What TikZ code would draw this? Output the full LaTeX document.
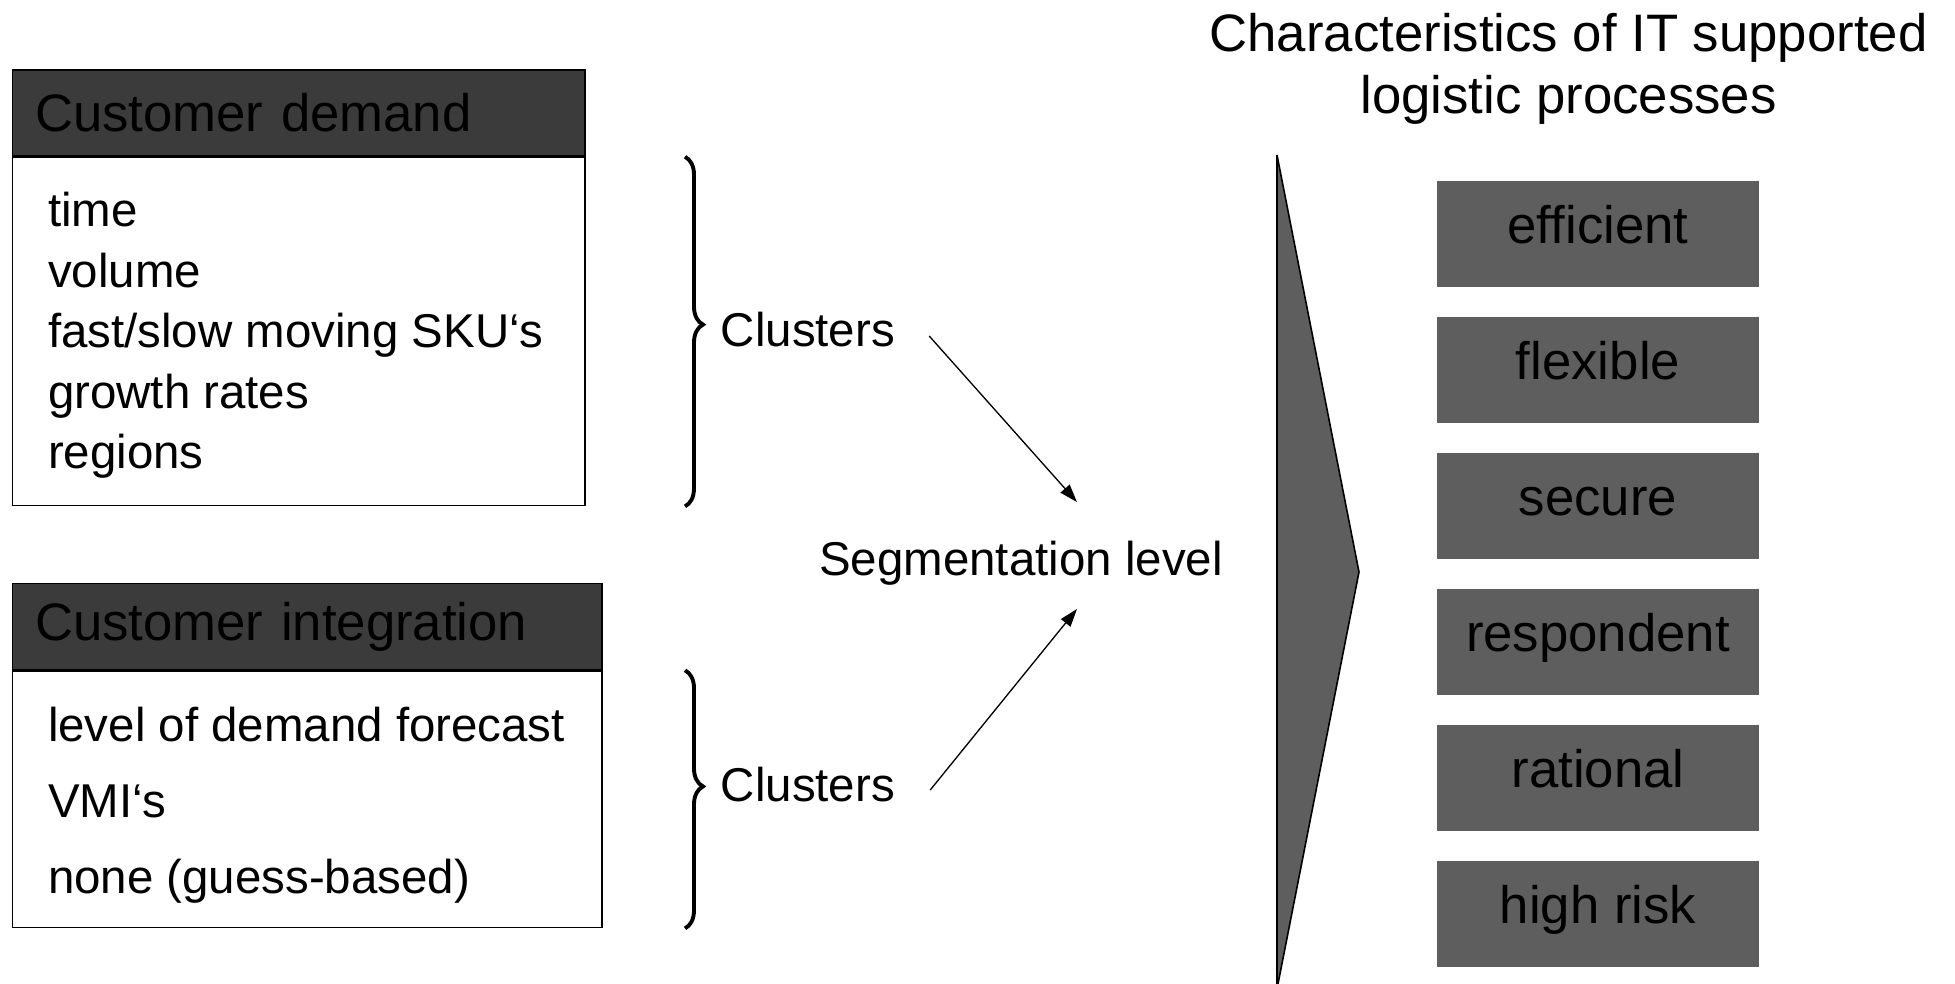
\documentclass[tikz,border=0pt]{standalone}
\usepackage{fontspec}
\setmainfont{Liberation Sans}
\usepackage{tikz}
\usetikzlibrary{arrows.meta,positioning,calc,decorations.pathreplacing}
\definecolor{HeadGray}{RGB}{59,59,59}
\definecolor{TraitGray}{RGB}{94,94,94}

\begin{document}
\begin{tikzpicture}[
    x=1cm,y=1cm,
    head/.style={draw=black, fill=HeadGray, line width=0.9pt, minimum height=1.72cm, inner xsep=0.45cm, inner ysep=0pt, align=left, font=\fontsize{30}{36}\selectfont},
    body/.style={draw=black, fill=white, line width=0.9pt, inner sep=0pt},
    items/.style={inner sep=0pt, align=left, anchor=west},
    trait/.style={fill=TraitGray, minimum width=6.44cm, minimum height=2.12cm, inner sep=0pt, text height=0.75cm, text depth=0.39cm, font=\fontsize{30}{36}\selectfont},
    label/.style={inner sep=0pt, font=\fontsize{27}{32}\selectfont},
    brc/.style={decorate, decoration={brace, amplitude=0.36cm}, line width=2.2pt},
    arrow/.style={-{Triangle[length=0.36cm, width=0.24cm]}, line width=0.75pt},
    chev/.style={draw=black, fill=TraitGray, line width=0.9pt, line join=miter}
  ]
    \useasboundingbox (0,0) rectangle (39.10,-19.68);
    \node[head, text width=10.55cm] (demhd) at (5.975,-2.26) {Customer demand};
    \node[body, minimum width=11.45cm, minimum height=6.96cm, below=0pt of demhd] (dembd) {};
    \node[items, font=\fontsize{27}{34.4}\selectfont] (demit) at ([xshift=0.72cm,yshift=-0.08cm]dembd.west) {time\\volume\\fast/slow moving SKU‘s\\growth rates\\regions};
    \node[head, text width=10.89cm] (inthd) at (6.145,-12.53) {Customer integration};
    \node[body, minimum width=11.79cm, minimum height=5.13cm, below=0pt of inthd] (intbd) {};
    \node[items, font=\fontsize{27}{43.2}\selectfont] (intit) at ([xshift=0.72cm,yshift=-0.12cm]intbd.west) {level of demand forecast\\VMI‘s\\none (guess-based)};
    \coordinate (bx) at (13.70,0);
    \draw[brc, decoration={aspect=0.48}] (bx |- dembd.north) -- (bx |- dembd.south);
    \draw[brc, decoration={aspect=0.45}] (bx |- intbd.north) -- (bx |- intbd.south);
    \node[label, anchor=west] (cl1) at (14.41,-6.60) {Clusters};
    \node[label, anchor=west] (cl2) at (14.41,-15.70) {Clusters};
    \node[label] (seg) at (20.42,-11.26) {Segmentation level};
    \draw[arrow] ([xshift=0.68cm,yshift=-0.12cm]cl1.east) -- ([xshift=1.12cm,yshift=0.77cm]seg.north);
    \draw[arrow] ([xshift=0.70cm,yshift=-0.10cm]cl2.east) -- ([xshift=1.12cm,yshift=-0.47cm]seg.south);
    \draw[chev] (25.54,-3.10) -- (27.18,-11.44) -- (25.54,-19.78) -- cycle;
    \node[align=center, font=\fontsize{30}{35.3}\selectfont] (title) at (31.37,-1.38) {Characteristics of IT supported\\logistic processes};
    \foreach \y/\name/\lab in {4.68/eff/efficient,7.40/flex/flexible,10.12/sec/secure,12.84/resp/respondent,15.56/rat/rational,18.28/risk/high risk} {
      \node[trait] (\name) at (31.96,-\y) {\lab};
    }
  \end{tikzpicture}
\end{document}
